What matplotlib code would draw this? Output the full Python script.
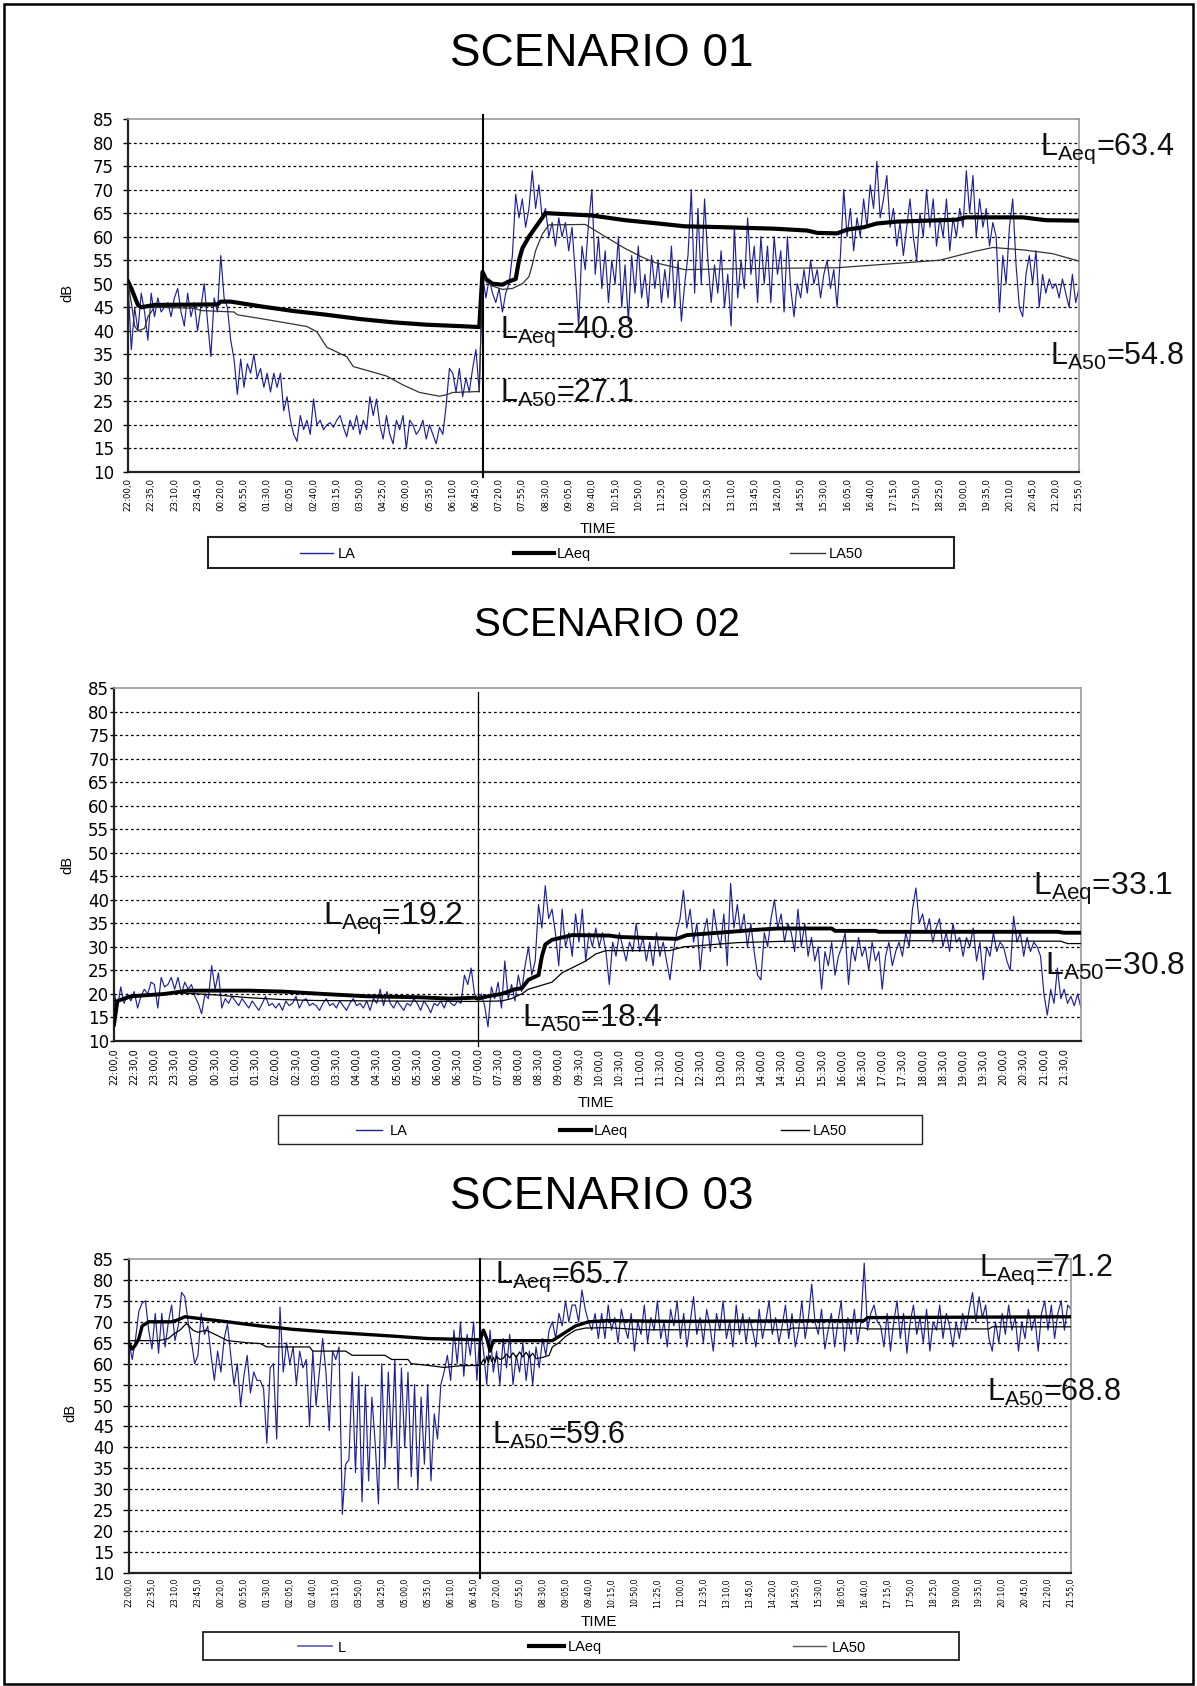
import matplotlib
matplotlib.use('Agg')
import matplotlib.pyplot as plt
from matplotlib.lines import Line2D
from matplotlib.patches import Rectangle

plt.rcParams['font.family'] = ['Liberation Sans', 'DejaVu Sans']
plt.rcParams['mathtext.default'] = 'regular'

# ---------------- data ----------------
series_names_1 = ['LA', 'LAeq', 'LA50']
series_names_2 = ['LA', 'LAeq', 'LA50']
series_names_3 = ['L', 'LAeq', 'LA50']

labels_35 = ['22:00,0', '22:35,0', '23:10,0', '23:45,0', '00:20,0', '00:55,0', '01:30,0',
             '02:05,0', '02:40,0', '03:15,0', '03:50,0', '04:25,0', '05:00,0', '05:35,0',
             '06:10,0', '06:45,0', '07:20,0', '07:55,0', '08:30,0', '09:05,0', '09:40,0',
             '10:15,0', '10:50,0', '11:25,0', '12:00,0', '12:35,0', '13:10,0', '13:45,0',
             '14:20,0', '14:55,0', '15:30,0', '16:05,0', '16:40,0', '17:15,0', '17:50,0',
             '18:25,0', '19:00,0', '19:35,0', '20:10,0', '20:45,0', '21:20,0', '21:55,0']
labels_30 = ['22:00,0', '22:30,0', '23:00,0', '23:30,0', '00:00,0', '00:30,0', '01:00,0',
             '01:30,0', '02:00,0', '02:30,0', '03:00,0', '03:30,0', '04:00,0', '04:30,0',
             '05:00,0', '05:30,0', '06:00,0', '06:30,0', '07:00,0', '07:30,0', '08:00,0',
             '08:30,0', '09:00,0', '09:30,0', '10:00,0', '10:30,0', '11:00,0', '11:30,0',
             '12:00,0', '12:30,0', '13:00,0', '13:30,0', '14:00,0', '14:30,0', '15:00,0',
             '15:30,0', '16:00,0', '16:30,0', '17:00,0', '17:30,0', '18:00,0', '18:30,0',
             '19:00,0', '19:30,0', '20:00,0', '20:30,0', '21:00,0', '21:30,0']

# Scenario 01 - LA, 5-minute values from 22:00 to 21:55 (one row per hour)
la_1 = [50, 36, 45, 40, 48, 44, 38, 48, 43, 47, 44, 45,
        46, 43, 47, 49, 44, 41, 48, 43, 46, 40, 45, 50,
        42, 34.5, 47, 44, 56, 47, 45, 38, 34, 26.5, 34, 28,
        33, 31, 35, 30, 32, 28, 31, 27, 31, 28, 31, 23,
        26, 21, 18, 16.5, 22, 19, 21, 18, 25.5, 20, 21, 19,
        20, 20.5, 19.5, 21, 22, 19.5, 17.5, 21, 19, 22, 18, 21,
        19, 26, 22, 25.5, 20, 17, 22, 18, 16, 21, 19, 22,
        15, 21, 20, 18, 19, 21, 17, 20, 18, 16, 19.5, 18,
        24, 32, 31, 27, 32, 26, 30, 27, 32, 36, 27, 52,
        47, 51, 48, 46, 49, 44, 48, 50, 56, 69, 64, 68,
        62, 66, 74, 66, 71, 64, 66, 60, 63, 58, 64, 60,
        63, 57, 62, 52, 41, 58, 53, 63, 70, 52, 60, 49,
        57, 46, 55, 50, 60, 45, 54, 42, 56, 48, 58, 47,
        52, 45, 56, 49, 55, 46, 53, 47, 58, 45, 55, 42,
        50, 56, 70, 48, 66, 50, 68, 55, 46, 54, 48, 57,
        45, 52, 41, 62, 47, 55, 49, 64, 52, 58, 46, 60,
        50, 58, 46, 60, 52, 57, 44, 60, 49, 43, 50, 47,
        53, 48, 55, 50, 53, 47, 52, 55, 49, 53, 45, 56,
        70, 60, 66, 57, 64, 60, 68, 62, 71, 66, 76, 64,
        68, 73, 62, 66, 58, 63, 56, 62, 68, 60, 55, 65,
        60, 70, 62, 68, 58, 64, 60, 68, 57, 64, 60, 66,
        62, 74, 65, 73, 60, 68, 62, 66, 58, 63, 60, 44,
        56, 50, 62, 68, 54, 45, 43, 52, 56, 50, 57, 45,
        52, 48, 51, 49, 50, 47, 51, 48, 45, 52, 46, 49]
laeq_1_idx = [0, 1, 3, 4, 8, 27, 28, 31, 40, 50, 60, 70, 80, 90, 100, 106,
              107, 108, 110, 113, 115, 117, 118, 119, 121, 123, 125, 126, 140, 150,
              160, 168, 180, 195, 205, 208, 214, 217, 222, 226, 232, 250, 253, 270, 277, 287]
laeq_1_val = [50.5, 49, 45.5, 45, 45.5, 45.6, 46.2, 46.2, 45.2, 44.2, 43.4, 42.5, 41.8, 41.3, 41.0, 40.8,
              52.5, 51, 50, 49.8, 50.5, 51, 55, 57.5, 60, 62, 64, 65, 64.5, 63.5,
              62.8, 62.2, 62, 61.7, 61.3, 60.8, 60.7, 61.5, 62, 62.8, 63.2, 63.6, 64.1, 64.1, 63.5, 63.4]
la50_1_idx = [0, 1, 2, 3, 5, 6, 8, 20, 22, 32, 33, 40, 50, 54, 57, 60, 66, 68, 78, 83, 88, 94, 96, 98, 106,
              107, 108, 110, 113, 116, 119, 121, 122, 123, 125, 127, 138, 145, 150, 155, 159, 168,
              185, 214, 218, 245, 255, 261, 270, 279, 287]
la50_1_val = [50, 46, 41, 40, 40.5, 43, 45, 44.8, 44.3, 44, 43.4, 42.6, 41.4, 40.9, 39.8, 36.5, 34.5, 32.4,
              30.4, 28.5, 26.9, 26.1, 26.4, 26.9, 27.1,
              52, 50.5, 49.5, 48.8, 49, 50, 51.5, 54, 57, 60.5, 62.5, 62.6, 59.6, 57.5, 55.7, 54.5, 53,
              53.2, 53.4, 53.6, 55, 56.8, 57.7, 57.2, 56.4, 54.8]

# Scenario 02
la_2 = [20.5, 17, 21.5, 18, 20, 18.5, 20.5, 17, 19.5, 21, 20, 22.5,
        22, 17, 23.5, 21.5, 22, 23.5, 21, 23.5, 20, 22.5, 21, 22,
        19.5, 18, 15.8, 20, 19, 26, 21, 24.5, 17, 19, 18, 19.5,
        18.5, 17.5, 19, 18, 17, 18.5, 17.5, 16.5, 18, 19.5, 17.5, 18,
        17, 18, 16.5, 18.5, 17.5, 18, 19.5, 17, 18.5, 19, 17.5, 18,
        17.5, 16.5, 18, 19, 17.5, 18, 17, 18.5, 17.5, 16.5, 18, 19,
        17.5, 18, 17, 18.5, 16.5, 19, 18, 21, 17.5, 20.5, 18, 17,
        18.5, 17.5, 16.5, 18, 17.5, 19, 18, 16.5, 18.5, 17.5, 16, 18,
        17.5, 18.5, 17, 19, 18, 17.5, 18.5, 18, 24, 22, 25.5, 20,
        19, 20, 17.5, 13, 21.5, 19, 22.5, 17, 27, 19, 22, 18.5,
        24, 20.5, 26, 30, 24, 27, 39, 34, 43, 36, 38, 33,
        26, 38, 30, 33, 28, 37, 31, 38, 27, 33, 30, 34,
        30, 33, 29, 22, 31, 28, 33, 30, 27, 31, 29, 35,
        29, 32, 27, 31, 26, 33, 28, 31, 27, 23, 29, 33,
        36, 42, 34, 38, 31, 35, 25, 33, 36, 29, 38, 33,
        30, 37, 26, 43.5, 34, 39, 33, 37, 30, 35, 29, 24,
        23, 33, 30, 36, 40, 34, 37, 31, 35, 33, 29, 38,
        30, 35, 28, 32, 27, 30, 21, 29, 26, 31, 24, 28,
        30, 33, 22, 30, 27, 32, 28, 30, 25, 31, 27, 29,
        21, 28, 31, 26, 29, 31, 28, 33, 30, 38, 42.5, 35,
        37, 33, 36, 31, 34, 36, 30, 33, 29, 35, 31, 32,
        28, 32, 30, 34, 27, 31, 23, 30, 28, 33, 29, 31,
        30, 27, 25, 36.5, 31, 33, 28, 32, 29, 31, 30, 28,
        20, 15.5, 21, 18, 25.5, 19, 21, 18, 19.5, 17.5, 20, 17]
laeq_2_idx = [0, 1, 5, 15, 22, 40, 50, 62, 75, 90, 100, 107, 108, 111, 115, 119, 121, 123, 126,
              127, 128, 130, 136, 147, 150, 167, 170, 183, 190, 197, 213, 214, 226, 227, 280, 282, 287]
laeq_2_val = [13.5, 18.5, 19.5, 20, 20.7, 20.7, 20.5, 20, 19.5, 19.3, 19, 19.2, 19, 19.5, 20, 21, 21.2, 23, 24,
              28, 30.5, 31.5, 32.5, 32.4, 32.1, 31.7, 32.5, 33.2, 33.6, 33.9, 33.9, 33.4, 33.4, 33.2, 33.2, 33.0, 33.0]
la50_2_idx = [0, 10, 20, 30, 40, 50, 60, 80, 107, 115, 118, 121, 123, 130, 133, 140, 143, 146, 165,
              169, 185, 199, 240, 281, 283, 287]
la50_2_val = [18.5, 19.8, 20.2, 19.8, 19.2, 18.8, 18.6, 18.5, 18.4, 18.5, 19, 20, 21, 22.5, 24.5, 27, 28.5,
              29.2, 29.2, 30, 30.9, 31.2, 31.3, 31.2, 30.7, 30.7]

# Scenario 03
la_3 = [65, 61, 66, 72.5, 74.5, 75, 68, 63.5, 72, 62.5, 72, 64,
        70, 74, 65.5, 69, 77, 76, 70, 65.5, 60, 62, 72, 67,
        69, 62, 56, 63, 58, 66, 69.5, 62, 55, 60, 50, 57,
        62, 53, 58, 56, 56, 54, 41, 59, 60, 42, 73.5, 58,
        65, 60, 64, 55, 63, 59, 61, 45, 63, 50, 58, 66,
        58, 44, 63, 61, 64, 24, 36, 37, 58, 34, 57, 27,
        55, 32, 52, 41, 26.5, 60, 35, 58, 40, 61, 30, 59,
        40, 58, 33, 55, 30, 52, 36, 55, 32, 48, 42, 55,
        58, 62, 56, 68, 60, 70, 57, 67, 62, 70, 56, 69,
        63, 55, 68, 58, 63, 55, 66, 59, 67, 55, 62, 58,
        65, 56, 63, 55, 64, 59, 66, 62, 68, 70, 66, 72,
        69, 75, 70, 74, 74, 70, 77.6, 73, 70, 68, 72, 66,
        72, 66, 74, 68, 71, 65, 73, 69, 66, 72, 63, 70,
        67, 74, 65, 71, 68, 75, 66, 70, 64, 73, 69, 75,
        66, 72, 64, 70, 76, 67, 71, 65, 73, 69, 63, 72,
        68, 75, 66, 70, 64, 74, 67, 72, 65, 71, 68, 64,
        73, 66, 70, 75, 67, 71, 65, 69, 74, 66, 72, 64,
        68, 75, 66, 71, 79, 70, 67, 73, 63.5, 68, 72, 64,
        70, 75, 63, 71, 67, 73, 65, 70, 84, 68, 72, 74,
        70, 69, 64, 72, 63, 70, 75, 66, 72, 62.5, 70, 74,
        67, 71, 65, 73, 63, 70, 68, 74, 66, 72, 69, 64,
        70, 66, 72, 68, 73, 77, 70, 76, 71, 74, 66, 63,
        70, 65, 72, 67, 74, 68, 71, 63, 70, 66, 73, 68,
        71, 63, 72, 75, 68, 74, 66, 72, 75, 68, 74, 73]
laeq_3_idx = [0, 1, 2, 3, 4, 6, 13, 15, 17, 30, 40, 50, 60, 70, 80, 91, 107, 108, 109, 110, 111,
              129, 132, 136, 140, 146, 166, 224, 225, 287]
laeq_3_val = [64.8, 63.5, 64.5, 66, 69, 70, 70, 70.5, 71.2, 70, 69, 68.2, 67.6, 67.1, 66.6, 66, 65.7, 68, 66,
              63, 65.5, 65.5, 67, 69, 70, 70.3, 70.1, 70.3, 71, 71.2]
la50_3_idx = [0, 9, 12, 13.5, 15.5, 17.5, 19.5, 21, 23.5, 27.5, 30, 36, 40, 42, 55, 56, 66, 68, 78, 80,
              85, 86, 91, 96, 101, 107, 108, 108.5, 109, 109.5, 110, 110.5, 111, 111.5, 112, 113, 114,
              115, 116, 117, 118, 119, 120, 121, 122, 123, 124, 126, 128, 129, 131, 133, 136, 139, 146,
              152, 157, 201, 202, 224, 225, 262, 263, 287]
la50_3_val = [65.5, 65.5, 66, 67, 68, 69.6, 68, 67.5, 68, 66.5, 65.5, 65, 64.8, 64, 64, 63, 63, 62, 62, 61,
              61, 60, 59.6, 59.1, 59.5, 59.6, 61, 60.2, 61.8, 60.3, 62, 60.5, 61.5, 60.4, 61.7, 61, 61.3,
              62.3, 61.4, 62.6, 61.5, 62.8, 61.6, 62.7, 61.5, 62.5, 61.2, 61.5, 62, 64, 65, 66.5, 68, 68.5, 68.6,
              68.3, 68.1, 68.1, 68.5, 68.5, 68.3, 68.3, 68.8, 68.8]

annotations_1 = ['L$_{Aeq}$=63.4', 'L$_{A50}$=54.8', 'L$_{Aeq}$=40.8', 'L$_{A50}$=27.1']
annotations_2 = ['L$_{Aeq}$=19.2', 'L$_{A50}$=18.4', 'L$_{Aeq}$=33.1', 'L$_{A50}$=30.8']
annotations_3 = ['L$_{Aeq}$=65.7', 'L$_{A50}$=59.6', 'L$_{Aeq}$=71.2', 'L$_{A50}$=68.8']
titles = ['SCENARIO 01', 'SCENARIO 02', 'SCENARIO 03']

# ---------------- figure ----------------
W, H = 1197, 1686
fig = plt.figure(figsize=(W / 100, H / 100), dpi=100)


def fx(x):
    return x / W


def fy(y):
    return 1 - y / H


BLUE = '#20209a'


def chart(box, la, leq_i, leq_v, l50_i, l50_v, vline, tick_step, tick_labels, tick_fs,
          xpad, ylen, ypad, leq_lw, l50_color, vline_lw, vtop):
    l, t, r, b = box
    ax = fig.add_axes([fx(l), fy(b), (r - l) / W, (b - t) / H])
    ax.set_xlim(0, len(la) - 1)
    ax.set_ylim(10, 85)
    for v in range(15, 85, 5):
        ax.axhline(v, color='k', lw=0.9, ls=(0, (2.2, 2.2)), zorder=0.5)
    ax.plot(range(len(la)), la, color=BLUE, lw=0.85, zorder=2)
    ax.plot(leq_i, leq_v, color='k', lw=leq_lw, zorder=3, solid_joinstyle='round')
    ax.plot(l50_i, l50_v, color=l50_color, lw=0.9, zorder=4)
    ax.axvline(vline, color='k', lw=vline_lw, ymin=-0.015, ymax=vtop, clip_on=False, zorder=5)
    ax.set_yticks(range(10, 90, 5))
    ticks = list(range(0, len(la), tick_step))
    ax.set_xticks(ticks)
    ax.set_xticklabels(tick_labels, rotation=90, fontsize=tick_fs, family='DejaVu Sans')
    ax.tick_params(axis='x', length=0, pad=xpad)
    ax.tick_params(axis='y', length=ylen, width=1, pad=ypad, labelsize=12)
    for lab in ax.get_yticklabels():
        lab.set_family('DejaVu Sans')
    for s in ['top', 'right']:
        ax.spines[s].set_color('#9a9a9a')
        ax.spines[s].set_linewidth(1.2)
    for s in ['left', 'bottom']:
        ax.spines[s].set_color('#222222')
        ax.spines[s].set_linewidth(1.6)
    return ax


def legend(box, entries, fs=10, lw=1.3):
    x0, y0, x1, y1 = box
    fig.add_artist(Rectangle((fx(x0), fy(y1)), (x1 - x0) / W, (y1 - y0) / H,
                             transform=fig.transFigure, fill=False, ec='#222222', lw=lw))
    yc = (y0 + y1) / 2
    for (a, bb, xt, label, color, w) in entries:
        fig.add_artist(Line2D([fx(a), fx(bb)], [fy(yc), fy(yc)], transform=fig.transFigure,
                              color=color, lw=w))
        fig.text(fx(xt), fy(yc), label, ha='left', va='center_baseline', fontsize=fs)


def ann(texts, positions, fs):
    for txt, (x, y) in zip(texts, positions):
        fig.text(fx(x), fy(y), txt, ha='left', va='baseline', fontsize=fs, color='#111111')


# ---- Scenario 01 ----
fig.text(fx(602), fy(66), titles[0], ha='center', va='baseline', fontsize=33)
chart((128, 119, 1079, 472), la_1, laeq_1_idx, laeq_1_val, la50_1_idx, la50_1_val, 107,
      7, labels_35, 6.2, 4.3, 3.6, 6.5, 3.0, '#333333', 1.5, 1.012)
fig.text(fx(67), fy(293), 'dB', rotation=90, ha='center', va='center', fontsize=10.5)
fig.text(fx(598), fy(533), 'TIME', ha='center', va='baseline', fontsize=11)
legend((208, 537, 954, 568),
       [(300, 333, 338, series_names_1[0], BLUE, 1.0),
        (514, 554, 557, series_names_1[1], 'k', 3.0),
        (790, 825, 829, series_names_1[2], '#333333', 1.0)], fs=10.5, lw=1.5)
ann(annotations_1, [(1040, 155), (1050, 365), (500, 338), (500, 402)], 22)

# ---- Scenario 02 ----
fig.text(fx(607), fy(636), titles[1], ha='center', va='baseline', fontsize=29)
chart((114, 688, 1081, 1041), la_2, laeq_2_idx, laeq_2_val, la50_2_idx, la50_2_val, 108,
      6, labels_30, 6.9, 5.0, 2.9, 0.6, 2.8, 'k', 0.9, 0.99)
fig.text(fx(67), fy(865), 'dB', rotation=90, ha='center', va='center', fontsize=10.5)
fig.text(fx(596), fy(1107), 'TIME', ha='center', va='baseline', fontsize=11)
legend((278, 1115, 922, 1144),
       [(356, 382, 390, series_names_2[0], BLUE, 1.0),
        (560, 591, 594, series_names_2[1], 'k', 3.0),
        (781, 809, 813, series_names_2[2], 'k', 1.0)], fs=10.5, lw=1.0)
ann(annotations_2, [(323, 925), (522, 1027), (1033, 895), (1045, 975)], 23)

# ---- Scenario 03 ----
fig.text(fx(602), fy(1209), titles[2], ha='center', va='baseline', fontsize=33)
chart((129, 1259, 1071, 1573), la_3, laeq_3_idx, laeq_3_val, la50_3_idx, la50_3_val, 107,
      7, labels_35, 5.6, 3.6, 4.3, 6.5, 2.4, 'k', 1.5, 1.0)
fig.text(fx(70), fy(1413), 'dB', rotation=90, ha='center', va='center', fontsize=10.5)
fig.text(fx(599), fy(1626), 'TIME', ha='center', va='baseline', fontsize=11)
legend((203, 1632, 959, 1660),
       [(298, 332, 338, series_names_3[0], '#5a5ab4', 1.2),
        (529, 564, 568, series_names_3[1], 'k', 3.0),
        (793, 826, 832, series_names_3[2], '#555555', 1.0)], fs=10.5, lw=1.3)
ann(annotations_3, [(495, 1283), (492, 1444), (979, 1276), (987, 1401)], 22)

# outer frame
fig.add_artist(Rectangle((fx(4), fy(1684)), (1193 - 4) / W, (1684 - 4) / H,
                         transform=fig.transFigure, fill=False, ec='k', lw=1.8))

fig.savefig('out.png', dpi=100)
